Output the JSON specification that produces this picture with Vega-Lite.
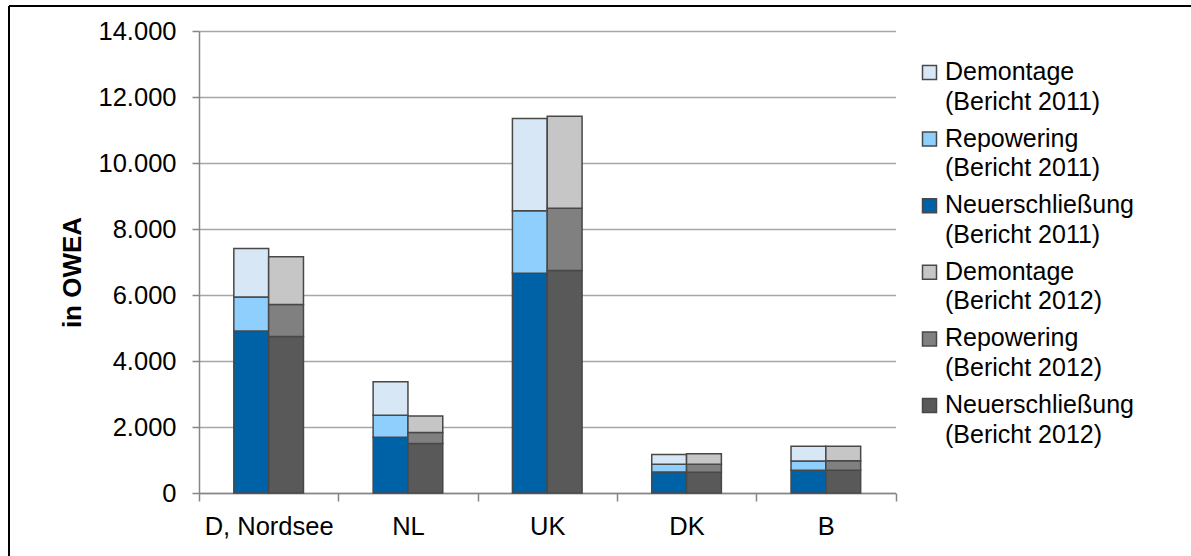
{
  "$schema": "https://vega.github.io/schema/vega-lite/v6.json",
  "width": 1182,
  "height": 550,
  "autosize": {"type": "none"},
  "padding": {"left": 9, "top": 6, "right": 0, "bottom": 0},
  "background": "#ffffff",
  "config": {
    "font": "Liberation Sans",
    "view": {"stroke": "#000000", "strokeWidth": 2, "strokeDash": [1182, 1732, 550, 0]},
    "axis": {
      "labelFont": "Liberation Sans",
      "labelColor": "#000000",
      "titleFont": "Liberation Sans",
      "titleColor": "#000000",
      "domainColor": "#868686",
      "domainWidth": 1.5,
      "tickColor": "#868686",
      "tickWidth": 1.5
    },
    "legend": {"labelFont": "Liberation Sans", "labelColor": "#000000"}
  },
  "data": {
    "values": [
      {"land": "D, Nordsee", "bericht": "2011", "stufe": 1, "serie": "Neuerschließung (Bericht 2011)", "owea": 4910},
      {"land": "D, Nordsee", "bericht": "2011", "stufe": 2, "serie": "Repowering (Bericht 2011)", "owea": 1030},
      {"land": "D, Nordsee", "bericht": "2011", "stufe": 3, "serie": "Demontage (Bericht 2011)", "owea": 1470},
      {"land": "D, Nordsee", "bericht": "2012", "stufe": 1, "serie": "Neuerschließung (Bericht 2012)", "owea": 4740},
      {"land": "D, Nordsee", "bericht": "2012", "stufe": 2, "serie": "Repowering (Bericht 2012)", "owea": 970},
      {"land": "D, Nordsee", "bericht": "2012", "stufe": 3, "serie": "Demontage (Bericht 2012)", "owea": 1450},
      {"land": "NL", "bericht": "2011", "stufe": 1, "serie": "Neuerschließung (Bericht 2011)", "owea": 1690},
      {"land": "NL", "bericht": "2011", "stufe": 2, "serie": "Repowering (Bericht 2011)", "owea": 665},
      {"land": "NL", "bericht": "2011", "stufe": 3, "serie": "Demontage (Bericht 2011)", "owea": 1020},
      {"land": "NL", "bericht": "2012", "stufe": 1, "serie": "Neuerschließung (Bericht 2012)", "owea": 1500},
      {"land": "NL", "bericht": "2012", "stufe": 2, "serie": "Repowering (Bericht 2012)", "owea": 330},
      {"land": "NL", "bericht": "2012", "stufe": 3, "serie": "Demontage (Bericht 2012)", "owea": 500},
      {"land": "UK", "bericht": "2011", "stufe": 1, "serie": "Neuerschließung (Bericht 2011)", "owea": 6660},
      {"land": "UK", "bericht": "2011", "stufe": 2, "serie": "Repowering (Bericht 2011)", "owea": 1890},
      {"land": "UK", "bericht": "2011", "stufe": 3, "serie": "Demontage (Bericht 2011)", "owea": 2800},
      {"land": "UK", "bericht": "2012", "stufe": 1, "serie": "Neuerschließung (Bericht 2012)", "owea": 6740},
      {"land": "UK", "bericht": "2012", "stufe": 2, "serie": "Repowering (Bericht 2012)", "owea": 1890},
      {"land": "UK", "bericht": "2012", "stufe": 3, "serie": "Demontage (Bericht 2012)", "owea": 2790},
      {"land": "DK", "bericht": "2011", "stufe": 1, "serie": "Neuerschließung (Bericht 2011)", "owea": 640},
      {"land": "DK", "bericht": "2011", "stufe": 2, "serie": "Repowering (Bericht 2011)", "owea": 230},
      {"land": "DK", "bericht": "2011", "stufe": 3, "serie": "Demontage (Bericht 2011)", "owea": 300},
      {"land": "DK", "bericht": "2012", "stufe": 1, "serie": "Neuerschließung (Bericht 2012)", "owea": 630},
      {"land": "DK", "bericht": "2012", "stufe": 2, "serie": "Repowering (Bericht 2012)", "owea": 240},
      {"land": "DK", "bericht": "2012", "stufe": 3, "serie": "Demontage (Bericht 2012)", "owea": 320},
      {"land": "B", "bericht": "2011", "stufe": 1, "serie": "Neuerschließung (Bericht 2011)", "owea": 690},
      {"land": "B", "bericht": "2011", "stufe": 2, "serie": "Repowering (Bericht 2011)", "owea": 280},
      {"land": "B", "bericht": "2011", "stufe": 3, "serie": "Demontage (Bericht 2011)", "owea": 445},
      {"land": "B", "bericht": "2012", "stufe": 1, "serie": "Neuerschließung (Bericht 2012)", "owea": 690},
      {"land": "B", "bericht": "2012", "stufe": 2, "serie": "Repowering (Bericht 2012)", "owea": 290},
      {"land": "B", "bericht": "2012", "stufe": 3, "serie": "Demontage (Bericht 2012)", "owea": 435}
    ]
  },
  "mark": {"type": "bar", "stroke": "#484848", "strokeWidth": 1.5},
  "encoding": {
    "x": {
      "field": "land",
      "type": "nominal",
      "sort": ["D, Nordsee", "NL", "UK", "DK", "B"],
      "scale": {"range": [190, 886.5], "paddingInner": 0, "paddingOuter": 0},
      "axis": {
        "title": null,
        "offset": -63,
        "tickBand": "extent",
        "tickSize": 8,
        "labelAngle": 0,
        "labelFontSize": 25.5,
        "labelPadding": 13,
        "grid": false
      }
    },
    "xOffset": {
      "field": "bericht",
      "type": "nominal",
      "sort": ["2011", "2012"],
      "scale": {"paddingInner": 0, "paddingOuter": 1}
    },
    "y": {
      "field": "owea",
      "type": "quantitative",
      "stack": "zero",
      "scale": {"domain": [0, 14000], "range": [487, 25], "nice": false},
      "axis": {
        "title": "in OWEA",
        "titleFontSize": 26,
        "titleFontWeight": "bold",
        "titlePadding": 13,
        "titleY": 266,
        "offset": -190,
        "values": [0, 2000, 4000, 6000, 8000, 10000, 12000, 14000],
        "labelExpr": "replace(format(datum.value, ','), ',', '.')",
        "labelFontSize": 25.5,
        "labelPadding": 16,
        "tickSize": 7,
        "grid": true,
        "gridColor": "#a6a6a6",
        "gridWidth": 1.3
      }
    },
    "order": {"field": "stufe", "type": "ordinal", "sort": "ascending"},
    "color": {
      "field": "serie",
      "type": "nominal",
      "scale": {
        "domain": [
          "Neuerschließung (Bericht 2011)",
          "Repowering (Bericht 2011)",
          "Demontage (Bericht 2011)",
          "Neuerschließung (Bericht 2012)",
          "Repowering (Bericht 2012)",
          "Demontage (Bericht 2012)"
        ],
        "range": ["#0062a6", "#8ecffe", "#d7e7f6", "#595959", "#808080", "#c6c6c6"]
      },
      "legend": {
        "title": null,
        "orient": "none",
        "legendX": 908,
        "legendY": 54,
        "padding": 0,
        "values": [
          "Demontage (Bericht 2011)",
          "Repowering (Bericht 2011)",
          "Neuerschließung (Bericht 2011)",
          "Demontage (Bericht 2012)",
          "Repowering (Bericht 2012)",
          "Neuerschließung (Bericht 2012)"
        ],
        "symbolType": "square",
        "symbolSize": 196,
        "symbolStrokeColor": "#484848",
        "symbolStrokeWidth": 1.5,
        "labelFontSize": 25,
        "labelLimit": 400,
        "labelOffset": 3,
        "labelBaseline": "top",
        "rowPadding": 11.6,
        "labelExpr": "[slice(datum.label, 0, indexof(datum.label, ' (')), slice(datum.label, indexof(datum.label, ' (') + 1)]",
        "encode": {
          "labels": {
            "update": {
              "dy": {"value": -12.5},
              "lineHeight": {"value": 29.5}
            }
          }
        }
      }
    }
  }
}
